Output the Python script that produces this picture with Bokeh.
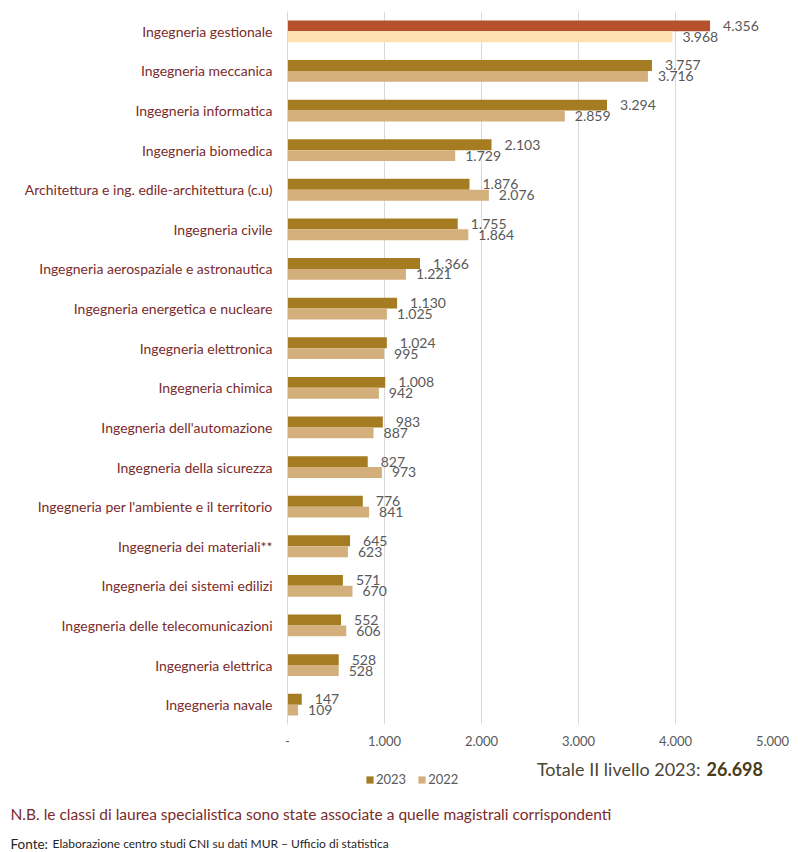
from bokeh.plotting import figure
from bokeh.models import (FactorRange, Range1d, FixedTicker, Label, Legend,
                          LegendItem, ColumnDataSource)
from bokeh.layouts import column
from bokeh.transform import dodge
from bokeh.core.properties import value
from bokeh.embed import file_html
from bokeh.resources import INLINE

# ---------------- data ----------------
categories = [
    "Ingegneria gestionale",
    "Ingegneria meccanica",
    "Ingegneria informatica",
    "Ingegneria biomedica",
    "Architettura e ing. edile-architettura (c.u)",
    "Ingegneria civile",
    "Ingegneria aerospaziale e astronautica",
    "Ingegneria energetica e nucleare",
    "Ingegneria elettronica",
    "Ingegneria chimica",
    "Ingegneria dell'automazione",
    "Ingegneria della sicurezza",
    "Ingegneria per l'ambiente e il territorio",
    "Ingegneria dei materiali**",
    "Ingegneria dei sistemi edilizi",
    "Ingegneria delle telecomunicazioni",
    "Ingegneria elettrica",
    "Ingegneria navale",
]
v2023 = [4356, 3757, 3294, 2103, 1876, 1755, 1366, 1130, 1024, 1008,
         983, 827, 776, 645, 571, 552, 528, 147]
v2022 = [3968, 3716, 2859, 1729, 2076, 1864, 1221, 1025, 995, 942,
         887, 973, 841, 623, 670, 606, 528, 109]
series_labels = ["2023", "2022"]
highlight = "Ingegneria gestionale"
x_ticks = [0, 1000, 2000, 3000, 4000, 5000]
x_tick_labels = ["-", "1.000", "2.000", "3.000", "4.000", "5.000"]
total_label = "Totale II livello 2023:"
total_value = "26.698"
note_text = "N.B. le classi di laurea specialistica sono state associate a quelle magistrali corrispondenti"
source_head = "Fonte:"
source_text = "Elaborazione centro studi CNI su dati MUR \u2013 Ufficio di statistica"

# ---------------- style ----------------
FONT = "Lato"
C23 = "#A67C22"
C22 = "#D3AF7C"
HL23 = "#B5512D"
HL22 = "#FDE2B0"
CAT_COLOR = "#7A2B2B"
LBL_COLOR = "#595959"
GRID = "#D9D9D9"
W = 805
MH = 752   # main chart height
FH = 98    # footer height


def fmt(v):
    return f"{v:,}".replace(",", ".")


src = ColumnDataSource(dict(
    cat=categories,
    v23=v2023,
    v22=v2022,
    t23=[fmt(v) for v in v2023],
    t22=[fmt(v) for v in v2022],
    c23=[HL23 if c == highlight else C23 for c in categories],
    c22=[HL22 if c == highlight else C22 for c in categories],
))

# ---------------- main chart ----------------
p = figure(width=W, height=MH,
           y_range=FactorRange(factors=categories[::-1]),
           x_range=Range1d(0, 5000),
           output_backend="svg", toolbar_location=None,
           min_border_left=287, min_border_right=W - 772,
           min_border_top=11, min_border_bottom=MH - 724, frame_align=False)
p.outline_line_color = None

OFF = 0.1375
H = 0.275
p.hbar(y=dodge("cat", OFF, range=p.y_range), left=0, right="v23",
       height=H, fill_color="c23", line_color=None, source=src)
p.hbar(y=dodge("cat", -OFF, range=p.y_range), left=0, right="v22",
       height=H, fill_color="c22", line_color=None, source=src)

p.text(x="v23", y=dodge("cat", OFF, range=p.y_range), text="t23",
       x_offset=13, text_align="left", text_baseline="middle",
       text_font=value(FONT), text_font_size="14px", text_color=LBL_COLOR,
       source=src)
p.text(x="v22", y=dodge("cat", -OFF, range=p.y_range), text="t22",
       x_offset=10, text_align="left", text_baseline="middle",
       text_font=value(FONT), text_font_size="14px", text_color=LBL_COLOR,
       source=src)

p.xaxis.ticker = FixedTicker(ticks=x_ticks)
p.xaxis.major_label_overrides = {t: l for t, l in zip(x_ticks, x_tick_labels)}
p.xaxis.axis_line_color = None
p.xaxis.major_tick_line_color = None
p.xaxis.minor_tick_line_color = None
p.xaxis.major_label_standoff = 5
p.xaxis.major_label_text_font = FONT
p.xaxis.major_label_text_font_size = "13px"
p.xaxis.major_label_text_color = LBL_COLOR

p.yaxis.axis_line_color = GRID
p.yaxis.major_tick_line_color = None
p.yaxis.minor_tick_line_color = None
p.yaxis.major_label_standoff = 9
p.yaxis.major_label_text_font = FONT
p.yaxis.major_label_text_font_size = "14px"
p.yaxis.major_label_text_color = CAT_COLOR

p.ygrid.grid_line_color = None
p.xgrid.grid_line_color = GRID

# ---------------- footer (legend + notes) ----------------
f = figure(width=W, height=FH, x_range=Range1d(0, 1), y_range=Range1d(0, 1),
           output_backend="svg", toolbar_location=None,
           x_axis_location=None, y_axis_location=None, min_border=0,
           frame_align=False)
f.outline_line_color = None
f.grid.grid_line_color = None

l23 = f.hbar(y=0, left=0, right="v23", height=1, fill_color="c23",
             line_color=None, source=src, visible=False)
l22 = f.hbar(y=0, left=0, right="v22", height=1, fill_color="c22",
             line_color=None, source=src, visible=False)

legend = Legend(items=[
    LegendItem(label=series_labels[0], renderers=[l23], index=1),
    LegendItem(label=series_labels[1], renderers=[l22], index=1),
], orientation="horizontal", location=(365, FH - 35),
    glyph_width=9, glyph_height=9, label_standoff=2, spacing=11,
    padding=0, margin=0, border_line_color=None, background_fill_alpha=0,
    label_text_font=FONT, label_text_font_size="13px",
    label_text_color=LBL_COLOR, click_policy="none")
f.add_layout(legend)

f.add_layout(Label(x=700, y=FH - 16, x_units="screen", y_units="screen",
                   text=total_label, text_align="right", text_baseline="middle",
                   text_font=FONT, text_font_size="18px", text_color="#4A4637"))
f.add_layout(Label(x=706, y=FH - 16, x_units="screen", y_units="screen",
                   text=total_value, text_align="left", text_baseline="middle",
                   text_font=FONT, text_font_size="18px", text_font_style="bold",
                   text_color="#4B3B17"))

f.add_layout(Label(x=10, y=FH - 61, x_units="screen", y_units="screen",
                   text=note_text, text_align="left", text_baseline="middle",
                   text_font=FONT, text_font_size="15.5px", text_color=CAT_COLOR))
f.add_layout(Label(x=10, y=FH - 91, x_units="screen", y_units="screen",
                   text=source_head, text_align="left", text_baseline="middle",
                   text_font=FONT, text_font_size="13.5px", text_color="#262626"))
f.add_layout(Label(x=52, y=FH - 91, x_units="screen", y_units="screen",
                   text=source_text, text_align="left", text_baseline="middle",
                   text_font=FONT, text_font_size="12px", text_color="#262626"))

layout = column(p, f, spacing=0)
open("out.html", "w").write(file_html(layout, INLINE))
